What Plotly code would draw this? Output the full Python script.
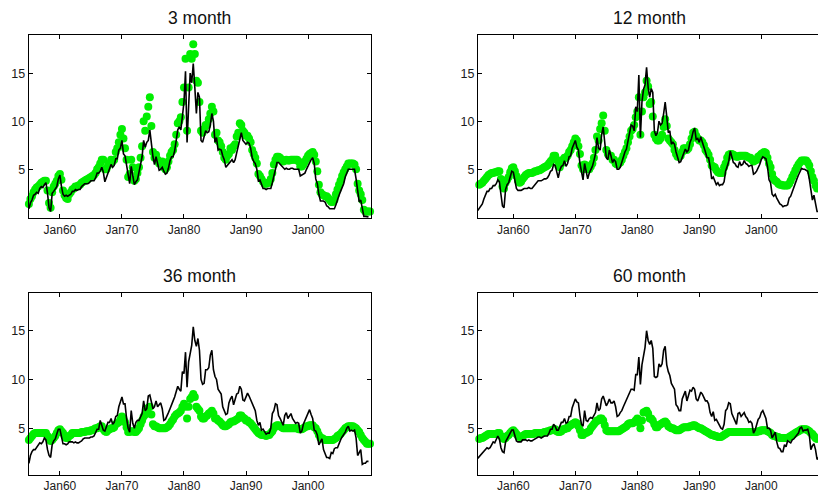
import pandas as pd
import plotly.graph_objects as go

titles = ["3 month", "12 month", "36 month", "60 month"]
tick_dates = ["1960-01-01", "1970-01-01", "1980-01-01", "1990-01-01", "2000-01-01"]
tick_labels = ["Jan60", "Jan70", "Jan80", "Jan90", "Jan00"]
y_ticks = [5, 10, 15]
y_tick_labels = ["5", "10", "15"]

# actual yields (quarterly); left panels start 1955Q1, right panels start 1954Q2
actual_3m = [
    0.9, 1.5, 1.8, 2.3, 2.4, 2.6, 2.5, 3.0, 3.2, 3.1, 3.4, 3.6, 2.5, 1.0, 0.6, 2.5,
    2.7, 2.9, 3.2, 4.0, 4.4, 3.2, 2.4, 2.2, 2.3, 2.2, 2.3, 2.4, 2.7, 2.7, 2.9, 2.8,
    2.9, 2.9, 3.2, 3.4, 3.5, 3.5, 3.5, 3.6, 3.8, 3.8, 3.8, 4.1, 4.6, 4.6, 4.8, 5.2,
    4.7, 3.7, 4.2, 4.6, 5.0, 5.5, 5.2, 5.4, 6.1, 6.1, 7.0, 7.2, 8.0, 6.6, 6.4, 5.4,
    4.2, 3.5, 5.3, 4.5, 3.4, 3.7, 3.9, 4.7, 5.4, 6.3, 8.0, 7.3, 7.8, 8.0, 9.1, 7.5,
    6.3, 5.5, 6.3, 5.6, 4.9, 5.0, 5.2, 4.8, 4.5, 4.6, 5.1, 5.9, 6.3, 6.3, 6.9, 8.0,
    9.1, 9.4, 9.1, 10.5, 12.0, 15.2, 7.8, 11.5, 15.0, 14.0, 16.0, 13.5, 10.8, 13.0, 12.5, 8.0,
    7.8, 8.4, 9.0, 8.8, 8.9, 9.6, 10.8, 10.0, 7.8, 8.3, 7.0, 7.1, 7.0, 6.4, 6.0, 5.2,
    5.4, 5.6, 5.8, 6.0, 5.7, 6.0, 6.7, 7.4, 8.2, 8.8, 8.0, 7.8, 7.6, 7.8, 7.7, 7.2,
    6.2, 5.8, 5.6, 5.0, 3.8, 3.9, 3.5, 3.0, 3.0, 2.9, 3.0, 3.0, 3.0, 3.6, 4.2, 4.8,
    5.7, 5.7, 5.5, 5.4, 5.1, 5.0, 5.1, 5.0, 5.0, 5.1, 5.1, 5.0, 5.0, 5.0, 5.0, 4.3,
    4.4, 4.5, 4.6, 5.0, 5.4, 5.7, 6.0, 6.2, 5.6, 4.0, 3.5, 2.4, 1.7, 1.7, 1.7, 1.6,
    1.2, 1.1, 0.9, 0.9, 0.9, 0.9, 1.3, 1.7, 2.3, 2.7, 3.1, 3.5, 4.2, 4.6, 5.0, 5.0,
    5.0, 5.0, 5.0, 4.0, 3.0, 1.6, 1.8, 0.9, 0.1, 0.1, 0.1, 0.05,
]
actual_12m = [
    0.7, 0.9, 1.1,
    1.4, 1.9, 2.3, 2.7, 2.7, 3.0, 3.0, 3.3, 3.3, 3.5, 3.9, 3.7, 2.4, 1.2, 1.0, 2.9,
    3.4, 3.6, 4.2, 4.8, 4.7, 3.8, 3.0, 2.8, 2.8, 2.8, 2.9, 3.0, 3.0, 3.0, 3.1, 3.0,
    3.0, 3.2, 3.5, 3.6, 3.8, 3.8, 3.8, 3.9, 4.0, 4.0, 4.1, 4.4, 4.8, 4.9, 5.5, 5.4,
    4.7, 4.1, 4.9, 5.3, 5.4, 5.9, 5.3, 5.6, 6.3, 6.4, 7.2, 7.6, 8.0, 7.3, 7.0, 5.6,
    4.6, 3.9, 5.6, 4.8, 4.0, 4.6, 4.9, 5.3, 5.9, 6.6, 8.3, 7.2, 7.0, 8.6, 9.4, 7.8,
    6.2, 6.0, 7.0, 6.4, 5.7, 6.0, 5.8, 5.0, 5.0, 5.2, 5.7, 6.4, 6.8, 7.1, 7.9, 8.8,
    9.6, 9.5, 9.0, 11.5, 11.0, 14.8, 8.3, 12.0, 13.3, 13.8, 15.6, 13.5, 12.5, 13.4, 13.0, 9.0,
    8.5, 8.8, 10.0, 9.6, 9.8, 10.8, 12.0, 10.5, 8.8, 9.0, 7.6, 7.8, 7.6, 6.8, 6.3, 5.7,
    5.8, 6.2, 6.8, 7.1, 6.8, 7.0, 7.8, 8.2, 8.9, 9.3, 8.1, 8.2, 7.8, 8.4, 7.8, 7.4,
    6.8, 6.2, 6.2, 5.3, 4.0, 4.2, 3.7, 3.4, 3.6, 3.3, 3.4, 3.4, 3.7, 4.8, 5.3, 5.8,
    6.9, 6.2, 5.7, 5.6, 5.3, 5.2, 5.8, 5.4, 5.5, 5.9, 5.6, 5.5, 5.3, 5.4, 5.4, 4.5,
    4.6, 4.8, 5.1, 5.5, 6.0, 6.3, 6.2, 6.1, 5.3, 3.9, 3.6, 2.4, 2.2, 2.4, 2.0, 1.6,
    1.4, 1.3, 1.1, 1.2, 1.2, 1.3, 2.0, 2.2, 2.7, 3.2, 3.6, 4.0, 4.4, 4.8, 5.1, 5.0,
    5.0, 4.9, 4.8, 4.0, 2.8, 1.8, 2.3, 1.5, 0.6, 0.6, 0.5, 0.4,
]
actual_36m = [
    1.4, 2.2, 2.6, 2.8, 2.8, 3.0, 3.2, 3.5, 3.4, 3.6, 4.0, 3.8, 2.8, 2.2, 2.0, 3.3,
    3.7, 3.9, 4.4, 4.9, 4.9, 4.1, 3.4, 3.4, 3.3, 3.4, 3.6, 3.6, 3.6, 3.5, 3.6, 3.5,
    3.5, 3.6, 3.7, 3.9, 4.0, 4.0, 4.0, 4.0, 4.1, 4.1, 4.2, 4.5, 4.9, 4.9, 5.8, 5.3,
    4.8, 4.7, 5.2, 5.6, 5.6, 6.0, 5.4, 5.6, 6.2, 6.3, 7.2, 7.6, 8.2, 7.5, 7.5, 6.0,
    5.0, 4.6, 6.8, 5.5, 5.0, 5.6, 5.8, 5.8, 6.2, 6.5, 7.8, 6.8, 7.0, 8.3, 8.4, 7.8,
    7.0, 7.2, 7.8, 7.2, 7.4, 7.6, 7.0, 5.8, 5.9, 6.2, 6.6, 7.0, 7.5, 7.8, 8.2, 8.8,
    9.3, 9.0, 8.8, 10.8, 10.6, 12.8, 9.2, 11.8, 12.8, 13.5, 15.4, 14.0, 13.4, 14.2, 13.0, 10.0,
    9.5, 9.6, 11.0, 11.0, 11.2, 12.5, 13.0, 11.0, 10.3, 10.0, 9.0, 8.8, 8.5, 7.2, 6.8, 6.4,
    6.5, 7.6, 8.0, 8.3, 7.4, 8.0, 8.5, 8.6, 9.3, 9.0, 7.9, 7.8, 8.2, 8.6, 8.3, 7.9,
    7.5, 7.2, 6.8, 5.8, 5.3, 5.6, 4.8, 4.9, 4.7, 4.4, 4.5, 4.5, 5.0, 6.5, 6.8, 7.5,
    7.4, 6.3, 6.0, 5.6, 5.3, 6.3, 6.6, 6.0, 6.2, 6.5, 6.0, 5.8, 5.5, 5.6, 5.5, 4.5,
    4.7, 5.4, 5.8, 6.0, 6.6, 6.9, 6.4, 6.0, 4.8, 4.7, 4.3, 3.3, 3.6, 3.9, 2.8, 2.3,
    2.0, 2.0, 1.9, 2.5, 2.4, 2.9, 3.0, 3.0, 3.5, 3.8, 4.1, 4.3, 4.6, 5.0, 5.2, 4.7,
    4.8, 4.7, 4.8, 4.0, 2.2, 2.5, 2.8, 1.3, 1.4, 1.4, 1.6, 1.6,
]
actual_60m = [
    1.9, 2.1, 2.3,
    2.5, 2.7, 2.9, 3.0, 2.9, 3.0, 3.3, 3.6, 3.5, 3.8, 4.2, 3.9, 3.0, 2.6, 2.5, 3.6,
    3.9, 4.1, 4.5, 4.8, 4.8, 4.2, 3.7, 3.6, 3.6, 3.6, 3.8, 3.8, 3.8, 3.7, 3.8, 3.7,
    3.7, 3.8, 3.9, 4.0, 4.1, 4.1, 4.0, 4.1, 4.2, 4.2, 4.2, 4.5, 4.9, 4.9, 5.4, 5.2,
    4.8, 4.8, 5.3, 5.6, 5.6, 6.0, 5.5, 5.6, 6.2, 6.2, 7.1, 7.5, 8.0, 7.7, 7.6, 6.3,
    5.4, 5.2, 6.8, 5.8, 5.7, 6.0, 6.1, 6.0, 6.4, 6.6, 7.6, 6.8, 7.0, 8.0, 8.3, 7.8,
    7.3, 7.6, 8.0, 7.6, 7.6, 7.8, 7.2, 6.2, 6.3, 6.6, 6.8, 7.2, 7.6, 8.0, 8.3, 8.6,
    9.0, 9.0, 8.9, 10.5, 10.5, 12.3, 9.5, 11.5, 12.5, 13.3, 15.0, 14.0, 13.6, 14.0, 13.2, 10.3,
    10.2, 10.3, 11.6, 11.3, 11.6, 13.0, 13.4, 11.5, 10.8, 10.4, 9.6, 9.3, 9.0, 7.4, 7.2, 6.8,
    6.8, 8.0, 8.4, 8.8, 7.8, 8.4, 8.9, 8.8, 9.2, 9.0, 8.0, 7.8, 8.3, 8.7, 8.5, 8.2,
    7.8, 7.8, 7.5, 6.6, 6.2, 6.7, 5.8, 5.9, 5.6, 5.2, 5.0, 4.9, 5.4, 6.8, 7.0, 7.6,
    7.5, 6.5, 6.1, 5.8, 5.4, 6.5, 6.6, 6.2, 6.4, 6.6, 6.2, 6.0, 5.6, 5.7, 5.5, 4.5,
    4.8, 5.5, 5.9, 6.1, 6.6, 6.8, 6.3, 6.0, 5.0, 5.0, 4.8, 4.0, 4.3, 4.6, 3.6, 3.0,
    2.9, 2.6, 2.6, 3.3, 3.1, 3.7, 3.6, 3.5, 3.8, 3.9, 4.1, 4.3, 4.5, 5.0, 5.1, 4.7,
    4.8, 4.8, 4.9, 4.3, 2.8, 3.2, 3.4, 2.8, 1.8, 2.0, 2.5, 2.4,
]

# model-implied yields (quarterly); same start dates as the actual series
model_3m = [
    1.4, 1.9, 2.2, 2.6, 2.9, 3.1, 3.2, 3.4, 3.6, 3.7, 3.8, 3.8, 2.8, 1.5, 1.0, 2.6,
    3.2, 3.5, 3.8, 4.3, 4.5, 3.9, 2.8, 2.3, 2.0, 1.9, 2.4, 2.6, 2.9, 3.0, 3.2, 3.2,
    3.3, 3.4, 3.6, 3.7, 3.8, 3.9, 4.0, 4.1, 4.2, 4.3, 4.4, 4.6, 5.0, 5.2, 5.6, 6.0,
    6.0, 5.0, 5.0, 5.4, 5.6, 6.0, 5.8, 6.0, 6.8, 7.2, 7.8, 8.6, 9.2, 8.2, 7.2, 6.0,
    4.2, 4.5, 6.0, 5.2, 3.8, 4.0, 4.6, 5.2, 6.2, 7.4, 10.0, 9.0, 10.5, 11.5, 12.5, 9.5,
    6.8, 6.2, 6.5, 6.0, 5.6, 5.6, 5.8, 5.2, 5.0, 5.2, 5.8, 6.4, 6.8, 7.0, 7.6, 8.6,
    9.8, 10.0, 10.4, 12.0, 13.5, 16.5, 9.0, 13.5, 17.0, 16.5, 18.0, 17.0, 14.2, 14.0, 12.0, 9.0,
    8.8, 9.2, 9.6, 9.6, 10.2, 10.8, 11.5, 11.0, 8.6, 8.8, 8.0, 7.8, 7.4, 6.8, 6.2, 6.0,
    6.4, 6.6, 7.2, 7.0, 7.4, 7.6, 8.4, 8.8, 9.8, 9.6, 9.0, 8.8, 8.5, 8.5, 8.2, 7.8,
    7.0, 6.6, 6.2, 5.6, 4.5, 4.3, 4.0, 3.7, 3.5, 3.5, 3.6, 3.6, 4.0, 4.6, 5.5, 6.0,
    6.3, 6.3, 6.2, 6.0, 5.8, 5.9, 6.0, 5.9, 5.9, 6.0, 6.0, 6.0, 6.0, 6.0, 5.8, 5.3,
    5.3, 5.5, 5.8, 6.1, 6.4, 6.6, 6.7, 6.8, 6.5, 5.8, 4.8, 3.4, 2.6, 2.4, 2.3, 2.2,
    2.2, 2.0, 1.8, 1.6, 1.6, 1.8, 2.4, 2.9, 3.4, 3.8, 4.3, 4.7, 5.0, 5.3, 5.6, 5.6,
    5.6, 5.6, 5.5, 5.0, 3.5, 2.8, 2.4, 1.8, 0.8, 0.6, 0.6, 0.6, 0.6,
]
model_12m = [
    3.2, 3.4, 3.5,
    3.6, 3.8, 4.0, 4.2, 4.4, 4.5, 4.6, 4.6, 4.7, 4.7, 4.8, 4.8, 4.0, 3.2, 3.0, 3.6,
    3.9, 4.2, 4.7, 5.1, 5.2, 4.8, 4.3, 3.8, 3.6, 3.7, 4.0, 4.2, 4.4, 4.5, 4.6, 4.6,
    4.6, 4.7, 4.8, 4.8, 4.9, 4.9, 5.0, 5.1, 5.2, 5.3, 5.4, 5.6, 5.8, 6.0, 6.4, 6.4,
    6.0, 5.4, 5.2, 5.6, 6.0, 6.2, 6.2, 6.4, 6.8, 7.0, 7.4, 7.8, 8.2, 8.0, 7.4, 6.6,
    5.4, 5.0, 5.5, 5.4, 5.0, 5.0, 5.3, 5.6, 6.2, 7.0, 8.4, 8.0, 9.2, 9.8, 10.6, 9.0,
    7.0, 6.6, 6.4, 6.4, 6.0, 6.0, 5.6, 5.5, 5.6, 5.7, 6.0, 6.4, 6.8, 7.2, 7.8, 8.4,
    9.0, 9.2, 9.6, 10.4, 11.0, 12.5, 8.6, 11.0, 12.5, 13.0, 14.2, 13.6, 11.8, 12.0, 10.5, 8.6,
    8.2, 8.0, 8.0, 8.2, 8.6, 9.4, 10.2, 9.5, 8.2, 8.0, 7.8, 7.6, 7.0, 6.6, 6.3, 6.3,
    6.4, 6.8, 7.2, 7.2, 7.0, 7.2, 7.6, 8.2, 8.8, 8.9, 8.5, 8.2, 8.0, 8.0, 7.8, 7.5,
    7.0, 6.8, 6.5, 6.0, 5.4, 5.3, 5.2, 4.9, 4.7, 4.6, 4.6, 4.6, 5.2, 5.6, 6.2, 6.5,
    6.6, 6.6, 6.5, 6.4, 6.3, 6.3, 6.4, 6.4, 6.4, 6.4, 6.4, 6.3, 6.2, 6.2, 6.0, 5.8,
    5.9, 6.0, 6.3, 6.4, 6.6, 6.7, 6.8, 6.7, 6.2, 5.6, 5.2, 4.5, 4.0, 3.8, 3.7, 3.5,
    3.4, 3.4, 3.3, 3.3, 3.3, 3.3, 3.5, 3.8, 4.2, 4.5, 4.9, 5.2, 5.5, 5.7, 5.9, 5.9,
    5.9, 5.9, 5.7, 5.4, 4.8, 4.2, 3.8, 3.3, 3.0, 2.8, 2.7, 2.6,
]
model_36m = [
    3.8, 4.0, 4.2, 4.4, 4.5, 4.5, 4.5, 4.5, 4.5, 4.5, 4.5, 4.5, 4.2, 3.9, 3.7, 3.8,
    4.0, 4.2, 4.5, 4.8, 4.9, 4.7, 4.5, 4.2, 4.0, 4.0, 4.2, 4.3, 4.5, 4.5, 4.5, 4.5,
    4.5, 4.5, 4.6, 4.6, 4.6, 4.7, 4.7, 4.7, 4.8, 4.8, 4.9, 5.0, 5.0, 5.1, 5.2, 5.2,
    4.9, 4.7, 4.6, 4.8, 4.9, 5.0, 5.0, 5.1, 5.4, 5.5, 5.6, 5.9, 6.2, 6.0, 5.6, 5.1,
    4.6, 4.6, 4.7, 4.7, 4.6, 4.6, 4.8, 5.0, 5.4, 5.8, 6.2, 6.4, 6.9, 7.1, 7.2, 6.4,
    5.4, 5.2, 5.2, 5.1, 5.0, 5.0, 5.0, 5.0, 5.0, 5.1, 5.2, 5.4, 5.7, 5.9, 6.2, 6.4,
    6.5, 6.6, 6.8, 7.2, 7.5, 7.2, 6.0, 7.2, 8.0, 8.2, 8.5, 8.2, 7.2, 7.0, 6.8, 6.2,
    6.0, 6.0, 6.2, 6.3, 6.5, 6.6, 6.8, 6.5, 6.0, 6.0, 5.8, 5.7, 5.5, 5.3, 5.2, 5.2,
    5.3, 5.4, 5.6, 5.7, 5.7, 5.8, 5.9, 6.0, 6.3, 6.3, 6.1, 6.0, 5.8, 5.8, 5.6, 5.5,
    5.3, 5.1, 4.9, 4.7, 4.5, 4.4, 4.3, 4.3, 4.3, 4.2, 4.3, 4.3, 4.5, 4.7, 5.0, 5.2,
    5.3, 5.3, 5.2, 5.1, 5.0, 5.0, 5.0, 5.0, 5.0, 5.0, 5.0, 5.0, 5.0, 5.0, 4.9, 4.9,
    4.9, 5.0, 5.1, 5.2, 5.2, 5.3, 5.3, 5.3, 5.1, 5.0, 4.7, 4.3, 4.0, 4.0, 3.9, 3.8,
    3.8, 3.8, 3.8, 3.8, 3.8, 3.9, 4.0, 4.2, 4.3, 4.4, 4.6, 4.8, 5.0, 5.1, 5.2, 5.2,
    5.2, 5.2, 5.1, 5.0, 4.8, 4.6, 4.3, 4.0, 3.8, 3.6, 3.4, 3.4, 3.4,
]
model_60m = [
    3.8, 3.9, 4.0,
    4.0, 4.1, 4.2, 4.3, 4.4, 4.4, 4.4, 4.4, 4.4, 4.4, 4.5, 4.5, 4.2, 4.0, 3.9, 4.0,
    4.2, 4.3, 4.5, 4.7, 4.8, 4.6, 4.4, 4.2, 4.1, 4.1, 4.2, 4.3, 4.4, 4.4, 4.4, 4.4,
    4.4, 4.4, 4.5, 4.5, 4.5, 4.5, 4.5, 4.5, 4.6, 4.6, 4.7, 4.7, 4.8, 4.8, 4.9, 4.9,
    4.7, 4.6, 4.6, 4.7, 4.9, 4.9, 5.0, 5.0, 5.2, 5.3, 5.4, 5.5, 5.6, 5.5, 5.2, 4.8,
    4.3, 4.3, 4.5, 4.5, 4.6, 4.7, 5.0, 5.2, 5.4, 5.6, 5.8, 5.8, 6.0, 6.0, 5.8, 5.3,
    4.8, 4.7, 4.7, 4.7, 4.7, 4.7, 4.7, 4.7, 4.7, 4.8, 4.9, 5.0, 5.1, 5.2, 5.4, 5.5,
    5.5, 5.5, 5.6, 5.8, 6.0, 5.6, 5.0, 5.8, 6.6, 6.7, 6.8, 6.5, 6.0, 6.0, 5.8, 5.4,
    5.1, 5.1, 5.3, 5.4, 5.5, 5.6, 5.7, 5.5, 5.2, 5.1, 5.0, 5.0, 4.9, 4.8, 4.8, 4.8,
    4.9, 5.0, 5.1, 5.1, 5.1, 5.1, 5.2, 5.2, 5.3, 5.3, 5.2, 5.1, 5.0, 5.0, 4.9, 4.8,
    4.7, 4.6, 4.5, 4.4, 4.3, 4.3, 4.2, 4.2, 4.1, 4.1, 4.1, 4.2, 4.3, 4.4, 4.5, 4.6,
    4.6, 4.6, 4.6, 4.6, 4.6, 4.6, 4.6, 4.6, 4.6, 4.6, 4.6, 4.6, 4.6, 4.6, 4.6, 4.6,
    4.6, 4.6, 4.7, 4.7, 4.8, 4.8, 4.8, 4.8, 4.7, 4.6, 4.5, 4.3, 4.2, 4.2, 4.1, 4.1,
    4.0, 4.0, 4.0, 4.0, 4.0, 4.0, 4.1, 4.2, 4.3, 4.4, 4.5, 4.6, 4.7, 4.8, 4.9, 4.9,
    4.9, 4.9, 4.8, 4.7, 4.5, 4.4, 4.2, 4.0, 3.9, 3.8, 3.8, 3.8,
]

actual = [actual_3m, actual_12m, actual_36m, actual_60m]
model = [model_3m, model_12m, model_36m, model_60m]
start = ["1955-01-01", "1954-04-01", "1955-01-01", "1954-04-01"]

W, H = 818, 493
# panel boxes in pixels: (left, right, top, bottom)
boxes = [(28.7, 370.7, 34.7, 218.3), (478.0, 818.0, 34.7, 218.3),
         (28.7, 370.7, 292.7, 475.0), (478.0, 818.0, 292.7, 475.0)]
x_ranges = [["1954-12-20", "2010-02-08"], ["1954-04-20", "2009-02-25"],
            ["1954-12-20", "2010-02-08"], ["1954-04-20", "2009-02-25"]]
y_ranges = [[-0.1, 19.0], [-0.1, 19.0], [0.2, 18.9], [0.2, 18.9]]

GREEN = "#00ee00"
FONT = "Liberation Sans, Arial, Helvetica, sans-serif"

fig = go.Figure()
layout = dict(width=W, height=H, margin=dict(l=0, r=0, t=0, b=0),
              paper_bgcolor="white", plot_bgcolor="white", showlegend=False,
              font=dict(family=FONT, color="#111111"))
annotations = []
for i in range(4):
    n = "" if i == 0 else str(i + 1)
    xa, ya = "x" + n, "y" + n
    l, r, t, b = boxes[i]
    md = pd.date_range(start[i], periods=len(model[i]), freq="QS")
    ad = pd.date_range(start[i], periods=len(actual[i]), freq="QS")
    fig.add_trace(go.Scatter(x=md, y=model[i], mode="markers", xaxis=xa, yaxis=ya,
                             marker=dict(color=GREEN, size=8, line=dict(width=0)),
                             cliponaxis=False, hoverinfo="skip"))
    fig.add_trace(go.Scatter(x=ad, y=actual[i], mode="lines", xaxis=xa, yaxis=ya,
                             line=dict(color="black", width=1.6), hoverinfo="skip"))
    layout["xaxis" + n] = dict(
        domain=[l / W, r / W], anchor=ya, type="date", range=x_ranges[i],
        tickvals=tick_dates, ticktext=tick_labels, ticks="inside", ticklen=4,
        tickcolor="black", tickwidth=1, showline=True, linecolor="black", linewidth=1,
        mirror="ticks", showgrid=False, zeroline=False,
        tickfont=dict(family=FONT, size=12, color="#1a1a1a"))
    layout["yaxis" + n] = dict(
        domain=[1 - b / H, 1 - t / H], anchor=xa, range=y_ranges[i],
        tickvals=y_ticks, ticktext=y_tick_labels, ticks="inside", ticklen=4,
        tickcolor="black", tickwidth=1, showline=True, linecolor="black", linewidth=1,
        mirror=("ticks" if i % 2 == 0 else False), showgrid=False, zeroline=False,
        tickfont=dict(family=FONT, size=12.5, color="#1a1a1a"))
    cx = ((l + r) / 2 if i % 2 == 0 else (478.0 + 821.0) / 2) / W
    cy = 1 - (t - 16.5) / H
    annotations.append(dict(text=titles[i], x=cx, y=cy, xref="paper", yref="paper",
                            xanchor="center", yanchor="middle", showarrow=False,
                            font=dict(family=FONT, size=17.5, color="#111111")))
layout["annotations"] = annotations
fig.update_layout(**layout)
fig.write_html("out.html")
